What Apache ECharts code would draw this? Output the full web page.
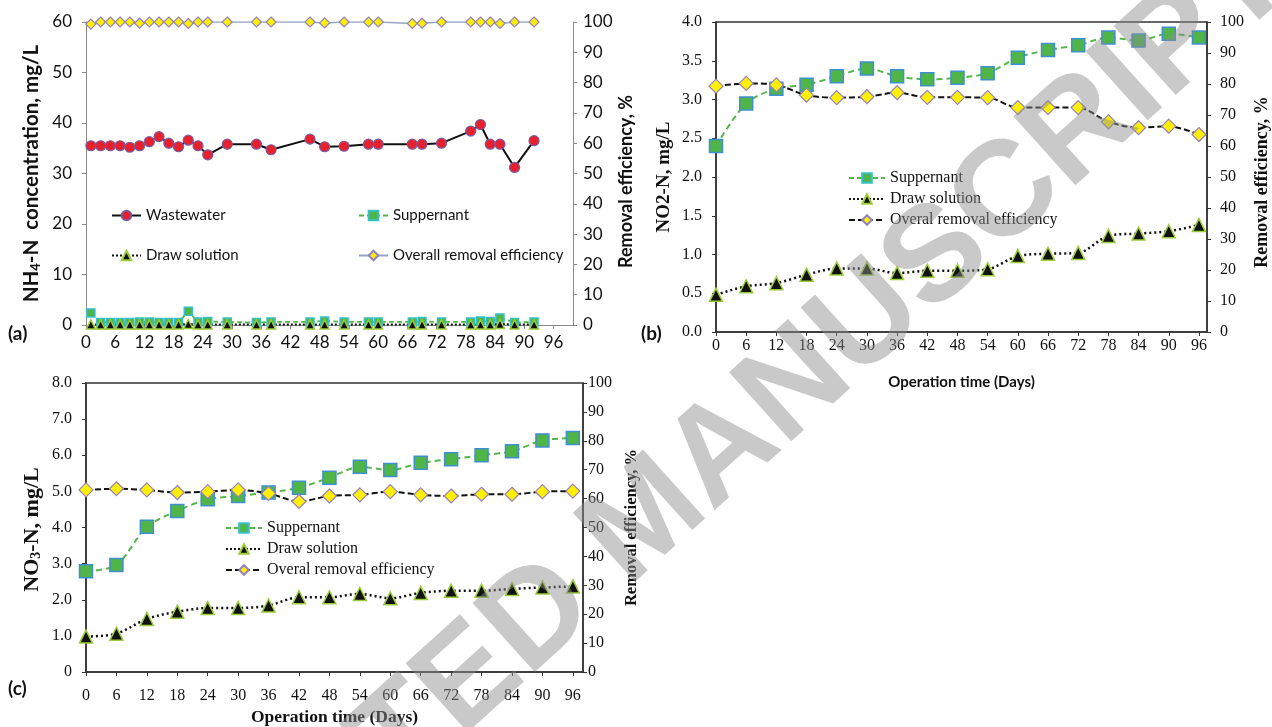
<!DOCTYPE html>
<html>
<head>
<meta charset="utf-8">
<script src="https://cdn.jsdelivr.net/npm/echarts@6/dist/echarts.min.js"></script>
<style>
html,body{margin:0;padding:0;background:#fff;}
#chart{width:1272px;height:727px;}
</style>
</head>
<body>
<div id="chart"></div>
<script>
// ---------- Panel (a): NH4-N ----------
const aDays = [1,3,5,7,9,11,13,15,17,19,21,23,25,29,35,38,46,49,53,58,60,67,69,73,79,81,83,85,88,92];
const aWastewater = [35.5,35.5,35.5,35.5,35.2,35.5,36.3,37.3,36.0,35.3,36.6,35.5,33.7,35.8,35.8,34.7,36.8,35.3,35.4,35.8,35.8,35.8,35.8,36.0,38.4,39.7,35.8,35.8,31.2,36.5];
const aSuppernant = [2.4,0.5,0.5,0.5,0.5,0.6,0.6,0.5,0.5,0.5,2.7,0.6,0.7,0.6,0.5,0.6,0.6,0.8,0.6,0.6,0.6,0.6,0.7,0.6,0.6,0.8,0.7,1.4,0.5,0.6];
const aDraw = [0.1,0.1,0.1,0.1,0.1,0.1,0.1,0.1,0.1,0.1,0.2,0.1,0.1,0.1,0.1,0.1,0.1,0.1,0.1,0.1,0.1,0.1,0.1,0.1,0.1,0.1,0.1,0.2,0.1,0.1];
const aRemoval = [99.3,100,100,100,100,99.6,100,100,100,100,99.5,100,100,100,100,100,100,99.7,100,100,100,99.5,99.6,100,100,100,100,99.5,100,100];

// ---------- Panels (b) NO2-N and (c) NO3-N ----------
const bcDays = [0,6,12,18,24,30,36,42,48,54,60,66,72,78,84,90,96];
const bSuppernant = [2.40,2.95,3.14,3.19,3.30,3.40,3.30,3.26,3.28,3.34,3.54,3.64,3.70,3.80,3.76,3.85,3.80];
const bDraw = [0.48,0.59,0.63,0.74,0.82,0.82,0.76,0.79,0.79,0.81,0.98,1.01,1.02,1.24,1.27,1.30,1.38];
const bRemoval = [79.3,80.2,79.7,76.4,75.6,75.9,77.2,75.7,75.7,75.6,72.4,72.4,72.4,67.8,65.9,66.4,63.7];
const cSuppernant = [2.79,2.96,4.02,4.46,4.78,4.87,4.97,5.10,5.38,5.68,5.59,5.79,5.89,6.00,6.11,6.41,6.48];
const cDraw = [0.98,1.06,1.47,1.67,1.77,1.77,1.84,2.07,2.07,2.16,2.04,2.19,2.25,2.25,2.30,2.34,2.37];
const cRemoval = [63.0,63.4,63.0,62.1,62.4,63.0,61.8,59.0,60.9,61.3,62.4,61.3,60.9,61.5,61.5,62.4,62.6];

// ---------- Text ----------
const panelLabels = ['(a)','(b)','(c)'];
const watermarkText = 'ACCEPTED MANUSCRIPT';

const pair = (xs, ys) => xs.map((x, i) => [x, ys[i]]);

const SANS = 'Lato';
const SERIF = 'Liberation Serif';

const sqStyle = {color:'#4fb548', borderColor:'#3f8fd2', borderWidth:1.5};
const triStyle = {color:'#111', borderColor:'#9ccc3a', borderWidth:1.5};
const diaStyle = {color:'#fff000', borderColor:'#9580c4', borderWidth:1.2};
const circStyle = {color:'#e81f2d', borderColor:'#7a5c9e', borderWidth:1.2};

function valueX(gridIndex, max, font, size, margin, extra) {
  return Object.assign({
    type:'value', gridIndex, min:0, max, interval:6,
    axisLine:{show:true, onZero:false, lineStyle:{color: gridIndex===0?'#8a8a8a':'#333', width: gridIndex===0?1:1.5}},
    axisTick:{show:true, length:4, lineStyle:{color: gridIndex===0?'#8a8a8a':'#333'}},
    axisLabel:{fontFamily:font, fontSize:size, color:'#111', margin, showMaxLabel:false},
    splitLine:{show:false}
  }, extra || {});
}
function valueY(gridIndex, position, min, max, interval, font, size, margin, formatter, extra) {
  const grey = gridIndex===0;
  return Object.assign({
    type:'value', gridIndex, position, min, max, interval,
    axisLine:{show:true, onZero:false, lineStyle:{color: grey?'#8a8a8a':'#333', width: grey?1:1.5}},
    axisTick:{show:true, length:4, lineStyle:{color: grey?'#8a8a8a':'#333'}},
    axisLabel:{fontFamily:font, fontSize:size, color:'#111', margin, formatter},
    splitLine:{show:false}
  }, extra || {});
}

const option = {
  animation:false,
  backgroundColor:'#fff',
  grid:[
    {left:86, top:22, right:699, bottom:402},
    {left:716, top:22, right:62, bottom:395, show:true, borderColor:'#333', borderWidth:1.5},
    {left:86, top:383, right:689, bottom:54, show:true, borderColor:'#333', borderWidth:1.5}
  ],
  xAxis:[
    valueX(0, 100, SANS, 17, 9),
    valueX(1, 97.6, SERIF, 16, 6, {
      name:'Operation time (Days)', nameLocation:'middle', nameGap:43,
      nameTextStyle:{fontFamily:SANS, fontWeight:'bold', fontSize:15, color:'#111'}
    }),
    valueX(2, 98, SERIF, 16, 16, {
      name:'Operation time (Days)', nameLocation:'middle', nameGap:36,
      nameTextStyle:{fontFamily:SERIF, fontWeight:'bold', fontSize:17.5, color:'#111'}
    })
  ],
  yAxis:[
    valueY(0, 'left', 0, 60, 10, SANS, 17, 14, null, {
      name:'{a|NH}{s|4}{a|-N  concentration, mg/L}', nameLocation:'middle', nameGap:44,
      nameTextStyle:{rich:{
        a:{fontFamily:SANS, fontWeight:'bold', fontSize:20.5, color:'#111'},
        s:{fontFamily:SANS, fontWeight:'bold', fontSize:13, color:'#111', verticalAlign:'bottom', padding:[8,0,0,0]}
      }}
    }),
    valueY(0, 'right', 0, 100, 10, SANS, 17, 10, null, {
      name:'Removal efficiency, %', nameLocation:'middle', nameGap:44,
      nameTextStyle:{fontFamily:SANS, fontWeight:'bold', fontSize:18, color:'#111', padding:[0,16,0,0]}
    }),
    valueY(1, 'left', 0, 4, 0.5, SERIF, 16, 14, v => v.toFixed(1), {
      name:'NO2-N, mg/L', nameLocation:'middle', nameGap:42,
      nameTextStyle:{fontFamily:SERIF, fontWeight:'bold', fontSize:19, color:'#111'}
    }),
    valueY(1, 'right', 0, 100, 10, SERIF, 16, 13, null, {
      name:'Removal efficiency, %', nameLocation:'middle', nameGap:46,
      nameTextStyle:{fontFamily:SERIF, fontWeight:'bold', fontSize:18, color:'#111', padding:[0,10,0,0]}
    }),
    valueY(2, 'left', 0, 8, 1, SERIF, 16, 14, v => v === 0 ? '0' : v.toFixed(1), {
      name:'{a|NO}{s|3}{a|-N, mg/L}', nameLocation:'middle', nameGap:43,
      nameTextStyle:{rich:{
        a:{fontFamily:SERIF, fontWeight:'bold', fontSize:22, color:'#111'},
        s:{fontFamily:SERIF, fontWeight:'bold', fontSize:14, color:'#111', verticalAlign:'bottom', padding:[8,0,0,0]}
      }, padding:[0,4,0,0]}
    }),
    valueY(2, 'right', 0, 100, 10, SERIF, 16, 5, null, {
      name:'Removal efficiency, %', nameLocation:'middle', nameGap:40,
      nameTextStyle:{fontFamily:SERIF, fontWeight:'bold', fontSize:16.5, color:'#111'}
    })
  ],
  legend:[
    {left:106, top:203, orient:'vertical', itemGap:25, itemWidth:29, itemHeight:12,
     data:['Wastewater','Draw solution'],
     textStyle:{fontFamily:SANS, fontSize:15, color:'#111'}},
    {left:353, top:203, orient:'vertical', itemGap:25, itemWidth:29, itemHeight:12,
     data:['Suppernant','Overall removal efficiency'],
     textStyle:{fontFamily:SANS, fontSize:15, color:'#111'}},
    {left:843, top:165, orient:'vertical', itemGap:5, itemWidth:36, itemHeight:12,
     data:['Suppernant','Draw solution','Overal removal efficiency'],
     textStyle:{fontFamily:SERIF, fontSize:16, color:'#111'}},
    {left:220, top:515, orient:'vertical', itemGap:5, itemWidth:36, itemHeight:12,
     data:['Suppernant','Draw solution','Overal removal efficiency'],
     textStyle:{fontFamily:SERIF, fontSize:16, color:'#111'}}
  ],
  series:[
    // (a)
    {name:'Overall removal efficiency', type:'line', xAxisIndex:0, yAxisIndex:1, data:pair(aDays,aRemoval),
     symbol:'diamond', symbolSize:10, itemStyle:diaStyle, lineStyle:{color:'#93a6c6', width:1.5}},
    {name:'Wastewater', type:'line', xAxisIndex:0, yAxisIndex:0, data:pair(aDays,aWastewater),
     symbol:'circle', symbolSize:10, itemStyle:circStyle, lineStyle:{color:'#111', width:2}},
    {name:'Suppernant', type:'line', xAxisIndex:0, yAxisIndex:0, data:pair(aDays,aSuppernant),
     symbol:'rect', symbolSize:8, itemStyle:Object.assign({}, sqStyle, {borderColor:'#38c0c8'}), lineStyle:{color:'#55b748', width:1.8, type:[5,3]}},
    {name:'Draw solution', type:'line', xAxisIndex:0, yAxisIndex:0, data:pair(aDays,aDraw),
     symbol:'triangle', symbolSize:9, itemStyle:triStyle, lineStyle:{color:'#111', width:2, type:[2,2]}},
    // (b)
    {name:'Suppernant', type:'line', xAxisIndex:1, yAxisIndex:2, data:pair(bcDays,bSuppernant), smooth:0.3,
     symbol:'rect', symbolSize:13, itemStyle:sqStyle, lineStyle:{color:'#55b748', width:2, type:[6,4]}},
    {name:'Draw solution', type:'line', xAxisIndex:1, yAxisIndex:2, data:pair(bcDays,bDraw), smooth:0.3,
     symbol:'triangle', symbolSize:13, itemStyle:triStyle, lineStyle:{color:'#111', width:2.5, type:[2,3]}},
    {name:'Overal removal efficiency', type:'line', xAxisIndex:1, yAxisIndex:3, data:pair(bcDays,bRemoval), smooth:0.3,
     symbol:'diamond', symbolSize:14, itemStyle:diaStyle, lineStyle:{color:'#111', width:2, type:[6,3]}},
    // (c)
    {name:'Suppernant', type:'line', xAxisIndex:2, yAxisIndex:4, data:pair(bcDays,cSuppernant), smooth:0.3,
     symbol:'rect', symbolSize:13, itemStyle:sqStyle, lineStyle:{color:'#55b748', width:2, type:[6,4]}},
    {name:'Draw solution', type:'line', xAxisIndex:2, yAxisIndex:4, data:pair(bcDays,cDraw), smooth:0.3,
     symbol:'triangle', symbolSize:13, itemStyle:triStyle, lineStyle:{color:'#111', width:2.5, type:[2,3]}},
    {name:'Overal removal efficiency', type:'line', xAxisIndex:2, yAxisIndex:5, data:pair(bcDays,cRemoval), smooth:0.3,
     symbol:'diamond', symbolSize:14, itemStyle:diaStyle, lineStyle:{color:'#111', width:2, type:[6,3]}}
  ],
  graphic:[
    {type:'text', left:8, top:324, style:{text:panelLabels[0], font:'bold 19px Lato', fill:'#111'}},
    {type:'text', left:641, top:324, style:{text:panelLabels[1], font:'bold 19px Lato', fill:'#111'}},
    {type:'text', left:8, top:679, style:{text:panelLabels[2], font:'bold 19px Lato', fill:'#111'}},
    {type:'text', z:100, x:648, y:520, rotation:0.733,
     style:{text:watermarkText, x:0, y:0, align:'center', verticalAlign:'middle',
            textAlign:'center', textVerticalAlign:'middle',
            font:'bold 135px "Liberation Sans"', fill:'rgba(140,140,140,0.47)'}}
  ]
};

const chart = echarts.init(document.getElementById('chart'), null, {renderer:'canvas'});
chart.setOption(option);
</script>
</body>
</html>
